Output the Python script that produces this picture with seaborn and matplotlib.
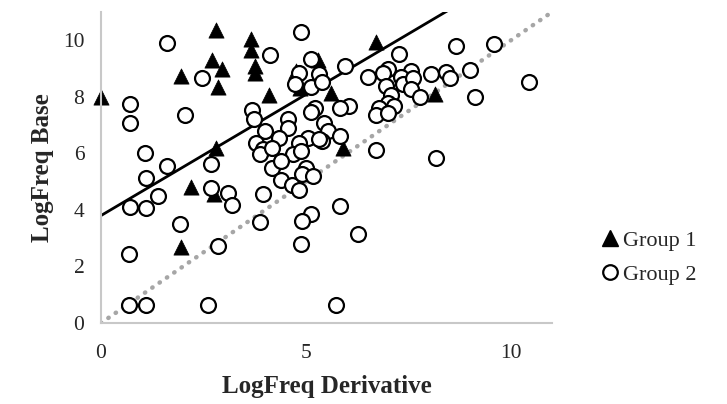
import numpy as np
import pandas as pd
import matplotlib
matplotlib.use("Agg")
import matplotlib.pyplot as plt
import seaborn as sns
from matplotlib.lines import Line2D

# ---- data ----
g1_x = [0.0, 1.95, 2.8, 2.7, 2.95, 2.85, 3.65, 3.65, 3.75, 3.75, 4.1, 4.75, 4.85,
        5.3, 5.6, 6.7, 8.15, 5.9, 2.8, 2.2, 2.75, 1.95]
g1_y = [8.0, 8.75, 10.35, 9.3, 9.0, 8.35, 10.05, 9.65, 9.1, 8.85, 8.05, 8.9, 8.3,
        9.3, 8.15, 9.95, 8.1, 6.2, 6.2, 4.8, 4.55, 2.7]

g2_x = [1.61, 2.47, 0.71, 0.71, 2.05, 1.08, 1.61, 1.10, 0.71, 1.10, 1.39, 1.93, 0.68,
        0.68, 1.10, 2.62, 2.69, 2.69, 3.10, 3.20, 2.86, 3.96, 3.89,
        3.69, 3.72, 4.00, 3.77, 3.94, 3.89, 4.13, 4.18, 4.89, 5.11, 4.82, 5.31, 4.74,
        5.11, 5.38, 5.94, 6.50, 7.26, 6.99, 6.89, 7.55, 8.04, 7.31, 7.36, 6.94, 7.60,
        7.55, 7.78, 7.07, 6.99, 7.14, 6.77, 6.70, 6.99, 6.04, 5.84, 5.23, 5.11, 4.57,
        4.55, 5.43, 5.53, 5.84, 5.40, 5.06, 4.82, 4.33, 4.18, 4.69, 4.38, 4.99, 6.70,
        8.17, 8.66, 9.58, 8.41, 8.51, 9.00, 10.44, 9.12, 4.40, 4.67, 4.84, 4.91, 5.18,
        5.84, 5.11, 4.91, 6.26, 4.87, 5.72, 4.87, 5.31]
g2_y = [9.89, 8.65, 7.73, 7.09, 7.34, 6.03, 5.57, 5.14, 4.11, 4.08, 4.50, 3.51, 2.45,
        0.64, 0.64, 0.64, 5.63, 4.79, 4.61, 4.18, 2.73, 4.57, 3.58,
        7.52, 7.20, 6.80, 6.35, 6.17, 5.96, 9.47, 5.50, 10.28, 9.33, 8.83, 8.79, 8.47,
        8.33, 8.51, 9.08, 8.69, 9.50, 9.00, 8.83, 8.90, 8.79, 8.69, 8.44, 8.40, 8.65,
        8.26, 7.98, 8.05, 7.77, 7.66, 7.62, 7.34, 7.41, 7.66, 7.59, 7.62, 7.45, 7.23,
        6.88, 7.06, 6.80, 6.63, 6.45, 6.56, 6.38, 6.56, 6.20, 5.96, 5.74, 5.50, 6.13,
        5.82, 9.79, 9.86, 8.87, 8.65, 8.94, 8.51, 8.01, 5.07, 4.89, 4.72, 5.28, 5.21,
        4.15, 3.87, 3.62, 3.16, 2.80, 0.64, 6.10, 6.52]

trend_intercept = 3.8
trend_slope = 0.857
x_ticks = [0, 5, 10]
y_ticks = [0, 2, 4, 6, 8, 10]
series_names = ["Group 1", "Group 2"]

df1 = pd.DataFrame({"x": g1_x, "y": g1_y})
df2 = pd.DataFrame({"x": g2_x, "y": g2_y})

sns.set_style("white")
plt.rcParams["font.family"] = ["Liberation Serif", "DejaVu Serif"]

fig = plt.figure(figsize=(7.27, 4.04), dpi=100)
ax = fig.add_axes([101 / 727, 1 - 323 / 404, (552 - 101) / 727, (323 - 12) / 404])

xmax, ymax = 11, 11
# reference line y = x (dotted grey)
ref = np.array([0, xmax])
ax.plot(ref, ref, color="#a6a6a6", lw=3.2, linestyle=(0, (0.1, 1.9)),
        dash_capstyle="round", zorder=1)
# trend line
tx = np.linspace(0, xmax, 50)
ax.plot(tx, trend_intercept + trend_slope * tx, color="black", lw=2.0, zorder=1.5)

sns.scatterplot(data=df1, x="x", y="y", ax=ax, marker="^", s=120, color="black",
                edgecolor="black", linewidth=0.5, zorder=2, legend=False,
                clip_on=False)
sns.scatterplot(data=df2, x="x", y="y", ax=ax, marker="o", s=115, facecolor="white",
                edgecolor="black", linewidth=1.6, zorder=3, legend=False,
                clip_on=False)

ax.set_xlim(0, xmax)
ax.set_ylim(0, ymax)
ax.set_xticks(x_ticks)
ax.set_yticks(y_ticks)
ax.tick_params(axis="x", length=0, labelsize=15.5, pad=15)
ax.tick_params(axis="y", length=0, labelsize=15.5, pad=12)
for s in ["top", "right"]:
    ax.spines[s].set_visible(False)
for s in ["left", "bottom"]:
    ax.spines[s].set_color("#c8c8c8")
    ax.spines[s].set_linewidth(1.5)
ax.set_xlabel("LogFreq Derivative", fontsize=18, fontweight="bold", labelpad=9)
ax.set_ylabel("LogFreq Base", fontsize=18, fontweight="bold", labelpad=6)

handles = [
    Line2D([], [], marker="^", linestyle="none", markersize=11, color="black"),
    Line2D([], [], marker="o", linestyle="none", markersize=10.5,
           markerfacecolor="white", markeredgecolor="black", markeredgewidth=1.6),
]
fig.legend(handles, series_names, loc="center left", bbox_to_anchor=(0.796, 0.362),
           frameon=False, fontsize=16, handletextpad=0.1, labelspacing=0.6,
           handlelength=1.0)

fig.savefig("out.png", dpi=100)
